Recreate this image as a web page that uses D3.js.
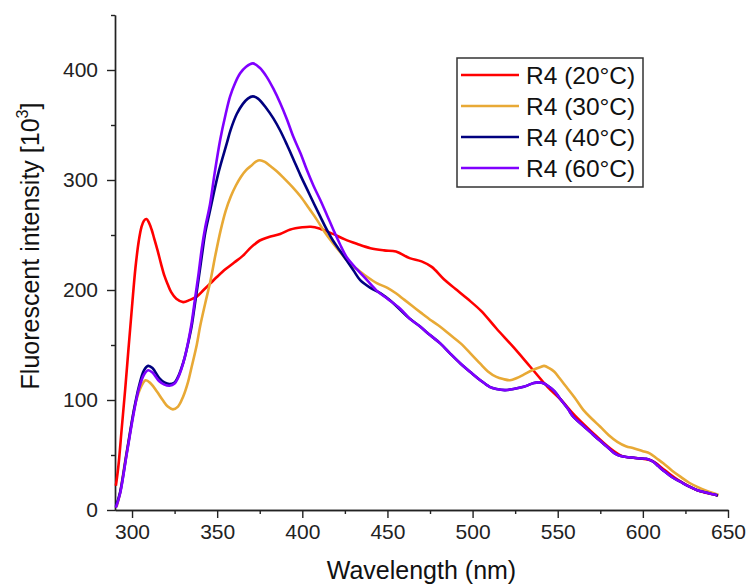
<!DOCTYPE html>
<html>
<head>
<meta charset="utf-8">
<script src="https://cdn.jsdelivr.net/npm/d3@7"></script>
<style>
  body { margin: 0; background: #fff; }
  svg { font-family: Arial, "Liberation Sans", sans-serif; }
  .axis path, .axis line { stroke: #222; stroke-width: 1.4; }
  .axis text { fill: #222; font-size: 21px; }
</style>
</head>
<body>
<script>
// Series data: [wavelength nm, intensity 10^3]
const r4_20C = [
  [290.5, 22], [292, 40], [294, 75], [296, 110], [298, 148], [300, 185], [302, 220], [304, 245],
  [305.5, 257], [307, 263], [308.5, 264.5], [310, 261], [311.5, 255], [313, 247], [315, 236], [317, 224],
  [319, 213], [321, 205], [323, 198], [326, 192], [330, 189], [334, 191], [338, 194], [342, 200],
  [346, 206], [350, 212], [355, 219], [360, 225], [365, 231], [370, 239], [375, 245], [380, 248],
  [387, 251], [393, 255], [400, 257], [405, 257.5], [410, 256], [418, 251], [425, 246], [432, 242],
  [440, 238], [448, 236], [455, 235], [463, 229], [470, 226], [476, 221], [483, 210], [490, 201],
  [497, 192], [505, 181], [514, 165], [524, 148], [534, 130], [544, 112], [552, 100], [560, 86],
  [570, 71], [580, 57], [588, 49], [597, 47], [605, 45], [613, 36], [622, 26], [632, 18], [642, 14],
  [644, 13]
];
const r4_30C = [
  [291, 3], [293, 16], [296, 45], [299, 72], [302, 97], [305, 111], [308, 118], [311, 115],
  [314.5, 108], [318, 100], [321, 94], [324, 91.5], [327, 94], [330, 103], [333, 117], [335, 130],
  [338, 150], [340, 167], [343, 188], [346, 208], [349, 232], [352, 254], [355, 272], [358, 285],
  [361, 295], [364, 303], [367, 309], [370, 313], [373, 317], [375, 318], [378, 316.5], [381, 313],
  [385, 308], [389, 302], [394, 294], [399, 285], [404, 274], [408.5, 264], [413, 253], [418, 242.5],
  [423, 233], [428, 224], [433, 218], [438, 212], [444, 206], [450, 202], [455, 197], [460, 191],
  [465, 185], [470, 179], [476, 172], [481, 166.6], [487, 159], [493, 151.5], [499, 142], [504.5, 133],
  [509, 126], [514, 121], [518, 119], [522, 118], [526, 120], [530, 123], [535, 127], [540, 130],
  [542, 131], [545, 129], [548, 125.7], [551, 120], [555, 112], [560, 102], [565, 91], [570, 83],
  [575, 75.7], [580, 68], [585, 62], [590, 58], [595, 56], [600, 53.5], [604, 51.5], [608, 47],
  [612, 42.5], [617, 36], [622, 30.3], [627, 25], [632, 21], [638, 17], [644.5, 13.6]
];
const r4_40C = [
  [290.5, 3], [293, 16], [297, 53], [301, 90], [304, 112], [307, 127], [309.5, 131], [312, 129],
  [316, 120], [319, 116], [322, 114.5], [325, 116], [327, 121], [329, 129], [331, 139], [333, 152],
  [335, 167], [337, 188], [339, 209], [341, 231], [343, 252], [345.5, 270], [348, 288], [351, 308],
  [355.6, 333], [358, 346], [361.5, 360], [365, 369], [368, 374], [371, 376], [374, 374], [379, 365],
  [383, 356], [387, 345], [391, 332], [395, 318], [399, 304], [403, 291], [407, 278], [410.5, 267],
  [414, 256], [418, 245], [422, 236], [426, 227], [430, 218], [434, 209], [440, 202], [446, 197],
  [452, 190], [457.5, 182], [463, 174], [469, 167], [475, 159], [481, 151.5], [487, 142], [493, 133],
  [499, 125], [504.5, 118], [510, 112], [514, 110], [519, 109], [524, 110], [530, 112], [536, 115.5],
  [539, 116], [542, 115], [545, 112], [548, 108], [552, 100], [556, 92], [559, 85], [564, 78],
  [569, 71], [574, 64], [579, 57.5], [583, 52], [587, 49], [592, 48], [597, 47], [602, 46.5],
  [606, 44], [609, 40], [612, 36], [617, 30], [622, 25.7], [627, 21.5], [632, 18], [637, 16],
  [642, 14], [644, 13]
];
const r4_60C = [
  [290.5, 2], [293, 15], [297, 52], [301, 88], [304, 110], [307, 123], [309.5, 127], [312, 125],
  [316, 117], [319, 114], [322, 113], [325, 115], [327, 120], [329, 128], [331, 139], [333, 153],
  [335, 170], [337, 192], [339, 214], [341, 238], [343, 257], [345.8, 278], [348.5, 306], [351.7, 336],
  [355, 360], [357.6, 376], [360.5, 388], [363.5, 397], [367, 403], [371, 406], [375, 402], [379, 394],
  [383, 383], [387, 370], [391, 355], [394.8, 339], [399, 324], [402.7, 309], [406.5, 295], [410.5, 282],
  [414.5, 268], [418.3, 254.5], [422, 242], [426, 230], [432, 219], [438, 209], [444, 199], [450, 192],
  [457.5, 183], [463, 174], [469, 167], [475, 159], [481, 151.5], [487, 142], [493, 133],
  [499, 125], [504.5, 118], [510, 112], [514, 110], [519, 109], [524, 110], [530, 112], [536, 115.5],
  [539, 116], [542, 115], [545, 112], [548, 108], [552, 100], [556, 92], [559, 85], [564, 78],
  [569, 71], [574, 64], [579, 57.5], [583, 52], [587, 49], [592, 48], [597, 47], [602, 46.5],
  [606, 44], [609, 40], [612, 36], [617, 30], [622, 25.7], [627, 21.5], [632, 18], [637, 16],
  [642, 14], [643.6, 13.5]
];

const seriesNames = ["R4 (20°C)", "R4 (30°C)", "R4 (40°C)", "R4 (60°C)"];
const seriesColors = ["#ff0000", "#e8a935", "#00007f", "#8000ff"];
const seriesData = [r4_20C, r4_30C, r4_40C, r4_60C];

const xMajorTicks = [300, 350, 400, 450, 500, 550, 600, 650];
const xMinorTicks = [325, 375, 425, 475, 525, 575, 625];
const yMajorTicks = [0, 100, 200, 300, 400];
const yMinorTicks = [50, 150, 250, 350, 450];

const margin = { top: 15, bottom: 77, left: 115, right: 20 };
const totalW = 748, totalH = 587;
const width = totalW - margin.left - margin.right;
const height = totalH - margin.top - margin.bottom;

const svg = d3.select("body").append("svg")
  .attr("width", totalW)
  .attr("height", totalH);

const g = svg.append("g").attr("transform", `translate(${margin.left},${margin.top})`);

// scales
const xscale = d3.scaleLinear().domain([290, 650]).range([0, width]);
const yscale = d3.scaleLinear().domain([0, 450]).range([height, 0]);

// axes (major with labels, minor without)
g.append("g").attr("class", "x axis")
  .attr("transform", `translate(0,${height})`)
  .call(d3.axisBottom(xscale).tickValues(xMajorTicks).tickSize(8).tickSizeOuter(0).tickPadding(6));
g.append("g").attr("class", "x axis minor")
  .attr("transform", `translate(0,${height})`)
  .call(d3.axisBottom(xscale).tickValues(xMinorTicks).tickSize(4).tickSizeOuter(0).tickFormat(""));

g.append("g").attr("class", "y axis")
  .call(d3.axisLeft(yscale).tickValues(yMajorTicks).tickSize(8).tickSizeOuter(0).tickPadding(9));
g.append("g").attr("class", "y axis minor")
  .call(d3.axisLeft(yscale).tickValues(yMinorTicks).tickSize(4).tickSizeOuter(0).tickFormat(""));

// lines
const line = d3.line()
  .x((d) => xscale(d[0]))
  .y((d) => yscale(d[1]))
  .curve(d3.curveCatmullRom.alpha(0.5));

g.selectAll("path.series")
  .data(seriesData)
  .join("path")
  .attr("class", "series")
  .attr("fill", "none")
  .attr("stroke", (d, i) => seriesColors[i])
  .attr("stroke-width", 2.6)
  .attr("stroke-linejoin", "round")
  .attr("d", line);

// axis titles
svg.append("text")
  .attr("x", margin.left + width / 2)
  .attr("y", 579)
  .attr("text-anchor", "middle")
  .attr("font-size", 25)
  .attr("fill", "#111")
  .text("Wavelength (nm)");

const ytitle = svg.append("text")
  .attr("transform", "translate(39,246) rotate(-90)")
  .attr("text-anchor", "middle")
  .attr("font-size", 25)
  .attr("fill", "#111");
ytitle.append("tspan").text("Fluorescent intensity [10");
ytitle.append("tspan").attr("font-size", 16).attr("dy", -11).text("3");
ytitle.append("tspan").attr("dy", 11).text("]");

// legend
const legend = svg.append("g").attr("transform", "translate(457,58)");
legend.append("rect")
  .attr("width", 186).attr("height", 129)
  .attr("fill", "#fff").attr("stroke", "#333").attr("stroke-width", 1.5);

const item = legend.selectAll("g.item")
  .data(seriesNames)
  .join("g")
  .attr("class", "item")
  .attr("transform", (d, i) => `translate(0,${17 + i * 31})`);
item.append("line")
  .attr("x1", 4).attr("x2", 62)
  .attr("stroke", (d, i) => seriesColors[i])
  .attr("stroke-width", 2.6);
item.append("text")
  .attr("x", 69).attr("dy", "0.35em")
  .attr("font-size", 24.5).attr("fill", "#111")
  .text((d) => d);
</script>
</body>
</html>
